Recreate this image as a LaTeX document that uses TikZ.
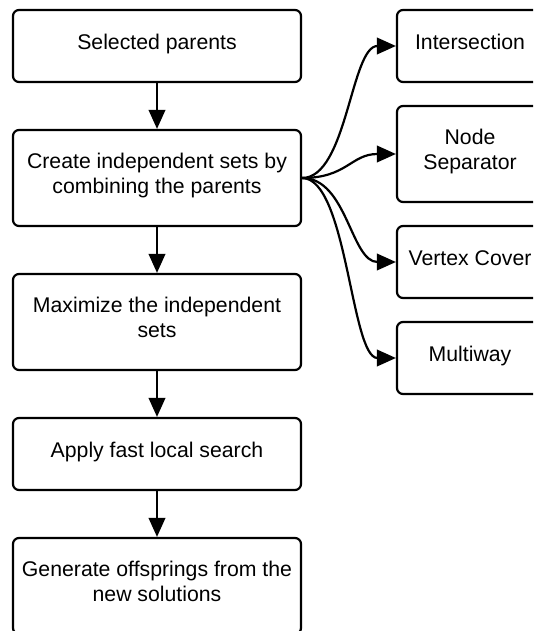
\documentclass[tikz,border=0pt]{standalone}
\usepackage{fontspec}
\setmainfont{Liberation Sans}
\usetikzlibrary{arrows.meta}
\begin{document}
\begin{tikzpicture}[x=1pt,y=-1pt,
  box/.style={draw, line width=2.2pt, rounded corners=6pt, align=center,
    inner sep=0pt, font=\fontsize{21.25}{25}\selectfont,
    % fixed first-line height and last-line depth keep the text placement uniform
    execute at begin node={\rule{0pt}{16pt}},
    execute at end node={\rule[-9pt]{0pt}{9pt}}},
  wide/.style={box, minimum width=288pt},
  side/.style={box, minimum width=146pt},
  flow/.style={-{Triangle[length=19pt,width=16.5pt]}, line width=2.2pt}]
\useasboundingbox (0,0) rectangle (533,631);
\clip (0,0) rectangle (533,631);

% main pipeline
\node[wide, minimum height=72pt] (sel)  at (157,46)  {Selected parents};
\node[wide, minimum height=96pt] (comb) at (157,178) {Create independent sets by\\combining the parents};
\node[wide, minimum height=96pt] (maxi) at (157,322) {Maximize the independent\\sets};
\node[wide, minimum height=72pt] (loc)  at (157,454) {Apply fast local search};
\node[wide, minimum height=96pt] (gen)  at (157,586) {Generate offsprings from the\\new solutions};

% combination operators
\node[side, minimum height=72pt] (inter) at (470,46)  {Intersection};
\node[side, minimum height=96pt] (nsep)  at (470,154) {Node\\Separator};
\node[side, minimum height=72pt] (vc)    at (470,262) {Vertex Cover};
\node[side, minimum height=72pt] (mw)    at (470,358) {Multiway};

\draw[flow] (sel) -- (comb);
\draw[flow] (comb) -- (maxi);
\draw[flow] (maxi) -- (loc);
\draw[flow] (loc) -- (gen);

\foreach \t in {inter,nsep,vc,mw}
  \draw[flow] (comb.east) .. controls +(45,0) and +(-45,0) .. (\t.west);
\end{tikzpicture}
\end{document}
